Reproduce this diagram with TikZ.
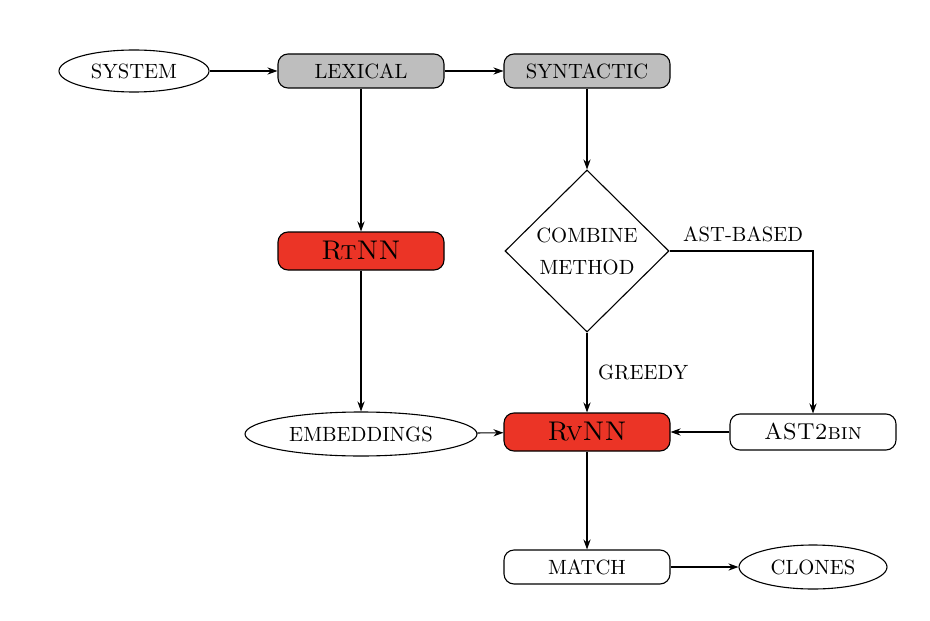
\documentclass[tikz,border=0pt]{standalone}
\usetikzlibrary{shapes.geometric,arrows.meta}
\definecolor{boxgray}{RGB}{190,190,190}
\definecolor{boxred}{RGB}{235,52,38}
\begin{document}
\begin{tikzpicture}[x=0.5pt,y=-0.5pt,
  lbl/.style={font=\fontsize{10.3}{12}\selectfont},
  rbox/.style={draw, rounded corners=5pt, minimum width=83pt, minimum height=17pt, inner sep=0pt, lbl},
  gbox/.style={rbox, fill=boxgray},
  redbox/.style={rbox, fill=boxred, minimum height=19pt, font=\fontsize{13.5}{16}\selectfont\scshape},
  ell/.style={draw, ellipse, inner sep=0pt, lbl},
  dia/.style={draw, diamond, minimum width=82pt, minimum height=81pt, inner sep=0pt, align=center, font=\fontsize{10.3}{16}\selectfont},
  arr/.style={-{Stealth[length=5pt,width=3.6pt]}, line width=0.55pt},
  every node/.append style={line width=0.55pt}
]
\useasboundingbox (0,0) rectangle (930,620);
\node[ell, minimum width=75pt, minimum height=21pt] (sys) at (134,71) {SYSTEM};
\node[gbox] (lex) at (361,71) {LEXICAL};
\node[gbox] (syn) at (587,71) {SYNTACTIC};
\node[dia] (cmb) at (587,251) {COMBINE\\METHOD};
\node[redbox] (rt) at (361,251) {RtNN};
\node[ell, minimum width=116pt, minimum height=22pt] (emb) at (361,434) {EMBEDDINGS};
\node[redbox] (rv) at (587,432) {RvNN};
\node[rbox, minimum height=18pt, font=\fontsize{11.5}{13}\selectfont\scshape] (a2b) at (813,432) {AST2bin};
\node[rbox] (mat) at (587,567) {MATCH};
\node[ell, minimum width=74pt, minimum height=22pt] (cln) at (813,567) {CLONES};
\coordinate (corner) at (813,251);

\draw[arr] (sys) -- (lex);
\draw[arr] (lex) -- (syn);
\draw[arr] (lex) -- (rt);
\draw[arr] (syn) -- (cmb);
\draw[arr] (rt) -- (emb);
\draw[arr] (emb) -- (rv);
\draw[arr] (a2b) -- (rv);
\draw[arr] (cmb) -- node[lbl, right, xshift=2pt] {GREEDY} (rv);
\draw[arr] (cmb.east) -- (corner) -- (a2b);
\node[lbl, anchor=base west] (astb) at (676,242) {AST-BASED};
\draw[arr] (rv) -- (mat);
\draw[arr] (mat) -- (cln);
\end{tikzpicture}
\end{document}
